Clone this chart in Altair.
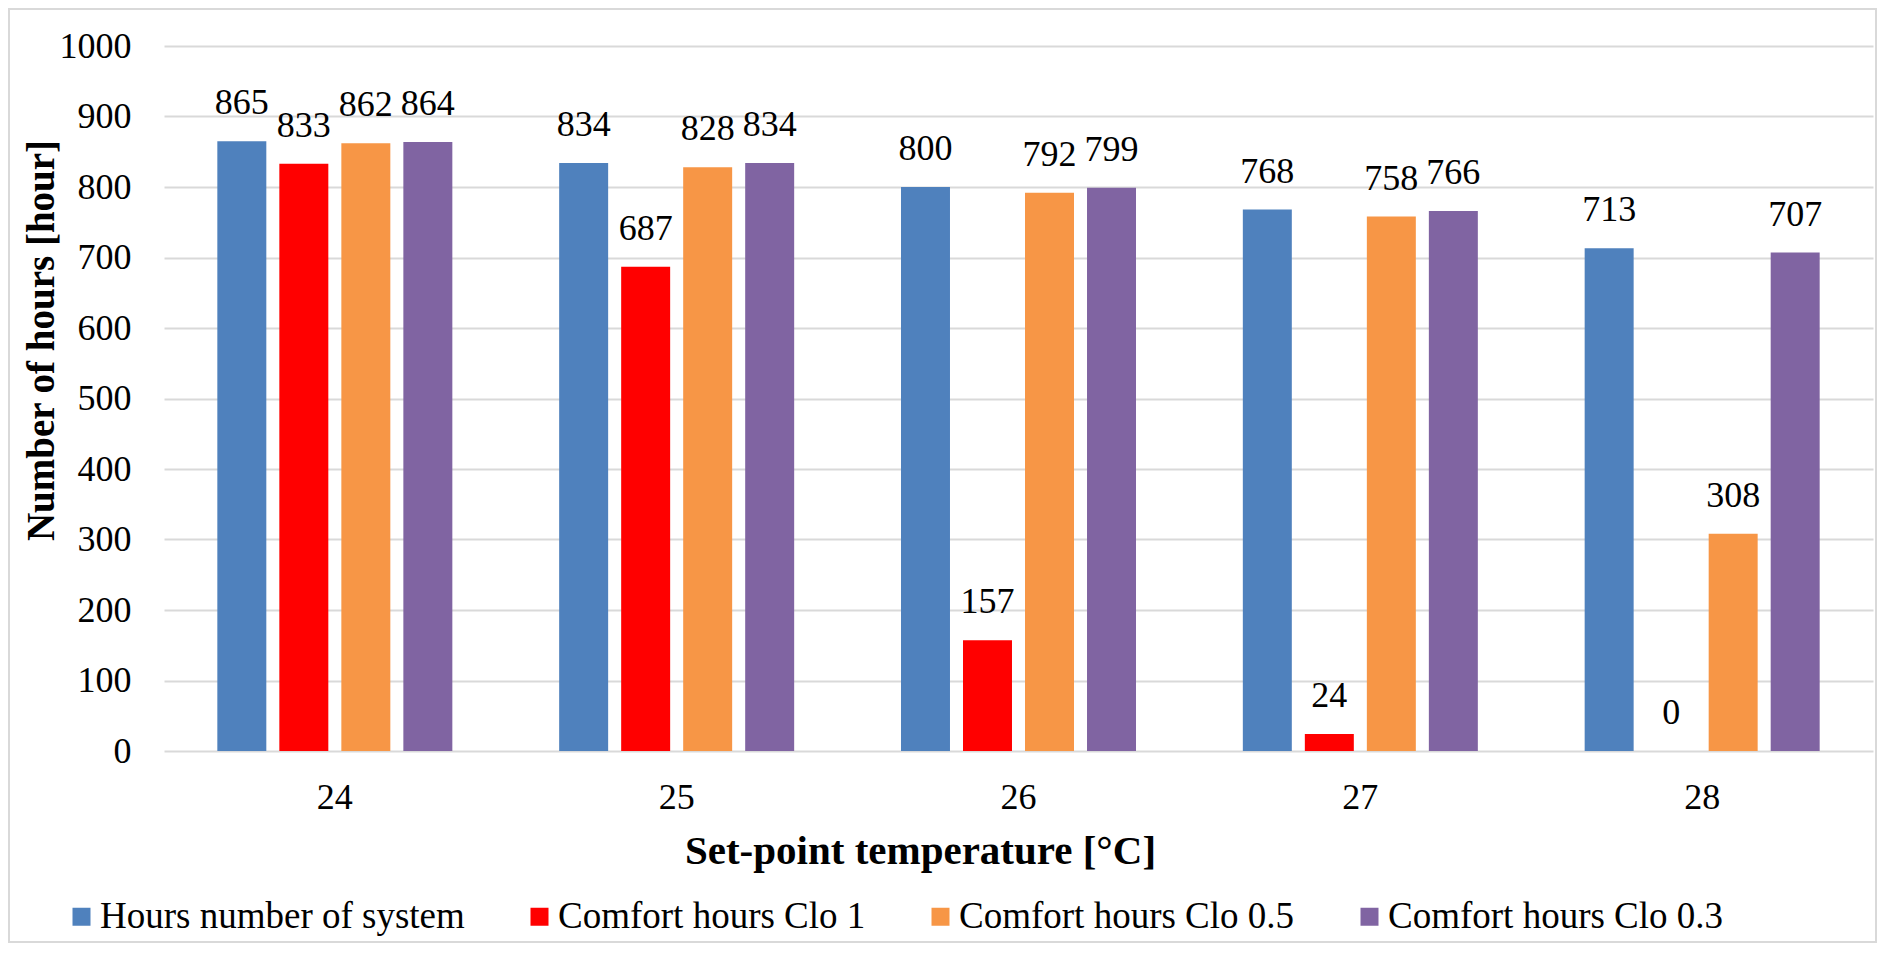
import altair as alt
import pandas as pd

categories = ["24", "25", "26", "27", "28"]
series = ["Hours number of system", "Comfort hours Clo 1", "Comfort hours Clo 0.5", "Comfort hours Clo 0.3"]
hours_system = [865, 834, 800, 768, 713]
clo_1 = [833, 687, 157, 24, 0]
clo_05 = [862, 828, 792, 758, 308]
clo_03 = [864, 834, 799, 766, 707]
colors = ["#4F81BD", "#FF0000", "#F79646", "#8064A2"]
y_ticks = [0, 100, 200, 300, 400, 500, 600, 700, 800, 900, 1000]

rows = []
for s, vals in zip(series, [hours_system, clo_1, clo_05, clo_03]):
    for c, v in zip(categories, vals):
        rows.append({"temp": c, "series": s, "hours": v})
df = pd.DataFrame(rows)

FONT = "Times New Roman, Liberation Serif, Tinos, DejaVu Serif, serif"
W, H = 1709, 705

x_enc = alt.X("temp:N", sort=categories,
              scale=alt.Scale(paddingInner=0.3125, paddingOuter=0.156),
              axis=alt.Axis(title="Set-point temperature [°C]", labelAngle=0,
                            labelFont=FONT, titleFont=FONT,
                            labelFontSize=36, labelPadding=57, labelBaseline="alphabetic",
                            ticks=False, domain=False, labelColor="#000000",
                            titleFontSize=41, titleFontWeight="bold", titleColor="#000000",
                            titleX=756, titleY=112, titleBaseline="alphabetic",
                            titleAlign="center"))
xo_enc = alt.XOffset("series:N", sort=series, scale=alt.Scale(paddingInner=0.21, paddingOuter=0))
y_enc = alt.Y("hours:Q", scale=alt.Scale(domain=[0, 1000], nice=False),
              axis=alt.Axis(title="Number of hours [hour]", values=y_ticks, format="d",
                            labelFont=FONT, titleFont=FONT,
                            grid=True, gridColor="#d9d9d9", gridWidth=2,
                            domain=False, ticks=False, labelFontSize=36, labelPadding=33,
                            labelColor="#000000", titleFontSize=39, titleFontWeight="bold",
                            titleColor="#000000", titleX=-111, titleY=294,
                            titleBaseline="alphabetic", titleAlign="center"))

base = alt.Chart(df).encode(x=x_enc, xOffset=xo_enc, y=y_enc)

bars = base.mark_bar().encode(
    color=alt.Color("series:N", sort=series,
                    scale=alt.Scale(domain=series, range=colors),
                    legend=alt.Legend(title=None, orient="none", legendX=-101, legendY=852,
                                      direction="horizontal", symbolType="square",
                                      symbolSize=324, symbolStrokeWidth=0,
                                      labelFontSize=37, labelOffset=0, columnPadding=56,
                                      labelLimit=0, padding=0, labelColor="#000000",
                                      labelFont=FONT))
)

labels = base.mark_text(font=FONT, fontSize=36, dy=-27, baseline="alphabetic",
                        align="center", color="#000000").encode(text=alt.Text("hours:Q", format="d"))

frame = alt.Chart(pd.DataFrame({"f": [0]})).mark_rect(
    fill="transparent", stroke="#d9d9d9", strokeWidth=2
).encode(x=alt.value(-155), x2=alt.value(W + 3), y=alt.value(-37), y2=alt.value(H + 191))

chart = alt.layer(frame, bars, labels).properties(
    width=W, height=H,
    autosize=alt.AutoSizeParams(type="none"),
    padding={"left": 156, "top": 38, "right": 4, "bottom": 192},
).configure(font=FONT).configure_view(stroke=None)

chart.save("out.html", embed_options={"renderer": "svg", "actions": False})
